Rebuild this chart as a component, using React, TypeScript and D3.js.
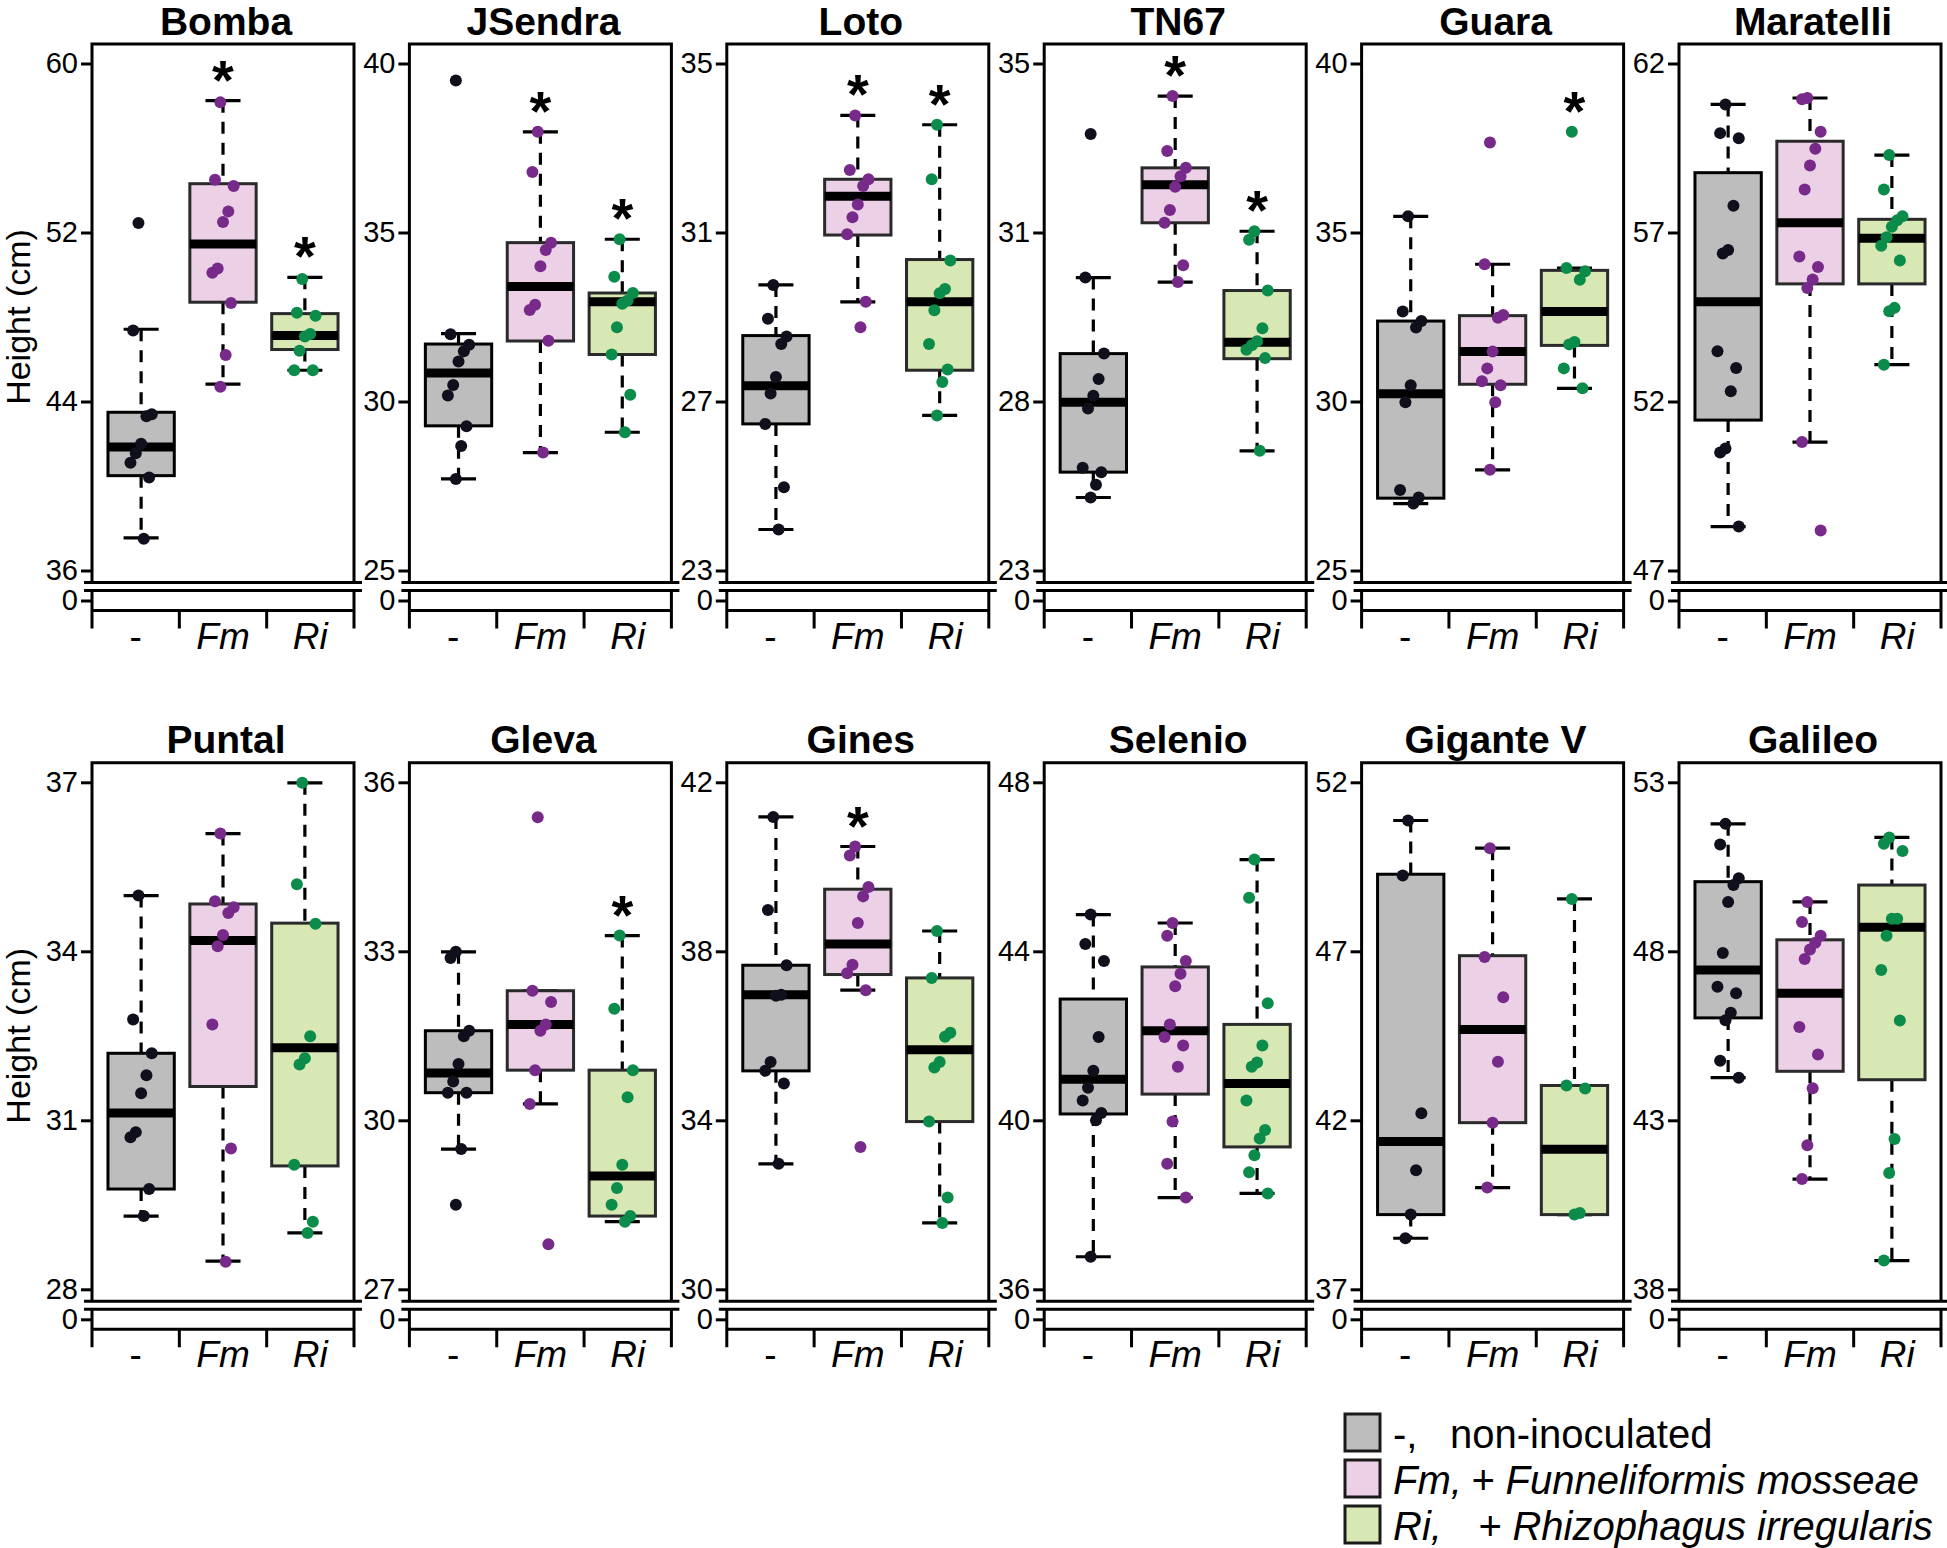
import { useEffect, useRef } from 'react'
import * as d3 from 'd3'

const cultivars = ['Bomba', 'JSendra', 'Loto', 'TN67', 'Guara', 'Maratelli', 'Puntal', 'Gleva', 'Gines', 'Selenio', 'Gigante V', 'Galileo']
const treatments = ['-', 'Fm', 'Ri']

// y tick labels, bottom to top (drawn equally spaced, as in the figure)
const yTicks = [
  [36, 44, 52, 60],
  [25, 30, 35, 40],
  [23, 27, 31, 35],
  [23, 28, 31, 35],
  [25, 30, 35, 40],
  [47, 52, 57, 62],
  [28, 31, 34, 37],
  [27, 30, 33, 36],
  [30, 34, 38, 42],
  [36, 40, 44, 48],
  [37, 42, 47, 52],
  [38, 43, 48, 53]
]

// [lower whisker, Q1, median, Q3, upper whisker]
const ctrlBox = [
  [37.54, 40.49, 41.85, 43.49, 47.42],
  [27.71, 29.28, 30.84, 31.70, 32.01],
  [23.97, 26.47, 27.37, 28.56, 29.76],
  [25.16, 25.91, 27.98, 28.85, 30.20],
  [26.98, 27.14, 30.23, 32.38, 35.48],
  [48.30, 51.45, 54.95, 58.77, 60.79],
  [29.30, 29.78, 31.13, 32.19, 34.99],
  [29.49, 30.49, 30.84, 31.59, 32.99],
  [32.97, 35.17, 36.97, 37.67, 41.18],
  [36.77, 40.15, 40.97, 42.87, 44.87],
  [38.51, 39.21, 41.37, 49.28, 50.87],
  [44.26, 46.03, 47.45, 50.06, 51.77]
]
const fmBox = [
  [44.82, 48.70, 51.45, 54.31, 58.24],
  [28.49, 31.79, 33.40, 34.70, 37.98],
  [29.36, 30.94, 31.86, 32.26, 33.77],
  [30.12, 31.23, 32.13, 32.53, 34.23],
  [27.98, 30.51, 31.48, 32.54, 34.06],
  [50.80, 55.48, 57.29, 59.70, 60.98],
  [28.50, 31.60, 34.19, 34.84, 36.09],
  [30.29, 30.89, 31.70, 32.30, 32.30],
  [37.08, 37.45, 38.17, 39.47, 40.48],
  [38.17, 40.62, 42.12, 43.63, 44.67],
  [40.01, 41.93, 44.69, 46.87, 50.05],
  [41.26, 44.45, 46.76, 48.34, 49.46]
]
const riBox = [
  [45.48, 46.46, 47.12, 48.16, 49.88],
  [29.09, 31.39, 32.95, 33.21, 34.80],
  [26.67, 27.74, 29.36, 30.36, 33.55],
  [26.54, 28.76, 29.05, 29.97, 31.03],
  [30.39, 31.66, 32.66, 33.88, 33.95],
  [53.09, 55.48, 56.83, 57.39, 59.29],
  [29.00, 30.19, 32.29, 34.50, 36.99],
  [28.20, 28.30, 29.01, 30.89, 33.28],
  [31.57, 33.97, 35.67, 37.37, 38.48],
  [38.27, 39.37, 40.87, 42.27, 46.17],
  [39.21, 39.21, 41.14, 43.03, 48.55],
  [38.85, 44.20, 48.71, 49.96, 51.37]
]

// individual plants (cm)
const ctrlPoints = [
  [52.45, 47.36, 43.4, 43.3, 42.0, 41.55, 41.1, 40.4, 37.5],
  [39.5, 31.99, 31.68, 31.49, 31.18, 30.49, 30.18, 29.27, 28.68, 27.71],
  [29.76, 28.96, 28.54, 28.36, 27.58, 27.19, 26.47, 24.97, 23.97],
  [33.33, 30.20, 28.85, 28.40, 28.10, 27.79, 26.04, 25.91, 25.54, 25.16],
  [35.48, 32.66, 32.38, 32.19, 30.48, 29.98, 27.38, 27.16, 26.98],
  [60.79, 59.94, 59.79, 57.79, 56.48, 56.38, 53.49, 52.99, 52.3, 50.61, 50.49, 48.30],
  [34.99, 32.79, 32.19, 31.80, 31.48, 30.79, 30.70, 29.78, 29.30],
  [32.99, 32.88, 31.59, 31.49, 31.0, 30.69, 30.49, 30.49, 29.49, 28.50],
  [41.18, 38.98, 37.67, 36.97, 36.95, 35.38, 35.17, 34.87, 32.97],
  [44.87, 44.17, 43.77, 41.97, 41.17, 40.77, 40.47, 40.17, 40.0, 36.77],
  [50.87, 49.24, 42.21, 40.52, 39.21, 38.51],
  [51.77, 51.16, 50.16, 49.96, 49.46, 47.95, 46.95, 46.76, 46.18, 45.96, 44.76, 44.26]
]
const fmPoints = [
  [58.16, 54.5, 54.2, 53.0, 52.5, 50.3, 50.1, 48.66, 46.2, 44.7],
  [37.98, 36.79, 34.7, 34.48, 34.0, 32.86, 32.71, 31.8, 28.49],
  [33.77, 32.48, 32.26, 32.1, 31.66, 31.36, 30.96, 29.36, 28.76],
  [34.23, 32.93, 32.53, 32.33, 32.08, 31.53, 31.23, 30.42, 30.12],
  [37.66, 34.06, 32.56, 32.48, 31.48, 30.98, 30.6, 30.48, 29.98, 27.98],
  [60.98, 60.94, 59.98, 59.48, 58.98, 58.27, 56.29, 55.98, 55.61, 55.36, 50.80, 48.18],
  [36.09, 34.89, 34.78, 34.68, 34.29, 34.09, 32.70, 30.50, 28.49],
  [35.38, 32.30, 32.10, 31.70, 31.59, 30.89, 30.29, 27.80],
  [40.48, 40.27, 39.52, 39.3, 38.67, 37.68, 37.48, 37.08, 33.37],
  [44.67, 44.37, 43.77, 43.47, 43.17, 42.27, 41.97, 41.77, 41.27, 39.97, 38.97, 38.17],
  [50.05, 46.83, 45.64, 43.73, 41.93, 40.01],
  [49.46, 48.87, 48.46, 48.25, 48.05, 47.77, 45.76, 44.95, 43.95, 42.26, 41.26]
]
const riPoints = [
  [49.8, 48.2, 48.06, 47.2, 47.08, 46.4, 45.48, 45.48],
  [34.8, 33.69, 33.21, 32.99, 32.89, 32.2, 31.39, 30.2, 29.09],
  [33.55, 32.26, 30.34, 29.66, 29.56, 29.16, 28.36, 27.76, 27.46, 26.67],
  [31.03, 30.87, 29.97, 29.30, 29.07, 29.0, 28.92, 28.77, 26.54],
  [37.98, 33.95, 33.85, 33.6, 31.76, 31.69, 30.98, 30.39],
  [59.29, 58.27, 57.48, 57.36, 57.17, 56.86, 56.61, 56.17, 54.77, 54.67, 53.09],
  [36.99, 35.19, 34.49, 32.49, 32.10, 31.99, 30.21, 29.2, 29.0],
  [33.28, 31.98, 30.89, 30.41, 29.21, 28.80, 28.5, 28.30, 28.20],
  [38.48, 37.37, 36.07, 35.98, 35.38, 35.25, 33.97, 32.17, 31.57],
  [46.17, 45.27, 42.77, 41.77, 41.37, 41.27, 40.47, 39.77, 39.57, 39.17, 38.77, 38.27],
  [48.55, 43.03, 42.94, 39.26, 39.21],
  [51.37, 51.18, 50.97, 48.96, 48.96, 48.46, 47.45, 45.95, 42.45, 41.44, 38.85]
]

// significance marks vs non-inoculated
const sigFm = [1, 1, 1, 1, 0, 0, 0, 0, 1, 0, 0, 0]
const sigRi = [1, 1, 1, 1, 1, 0, 0, 1, 0, 0, 0, 0]

const legendKeys = ['-,', 'Fm,', 'Ri,']
const legendTexts = ['non-inoculated', '+ Funneliformis mosseae', '+ Rhizophagus irregularis']

const fills = ['#bdbdbd', '#ebd0e6', '#d8e8b4']
const dots = ['#10101c', '#782a8a', '#0c8c4a']
const FONT = '"Liberation Sans", Arial, Helvetica, sans-serif'

const W = 1947
const H = 1548

export default function App() {
  const svgRef = useRef<SVGSVGElement>(null)

  useEffect(() => {
    if (!svgRef.current) return
    const svg = d3.select(svgRef.current)
    svg.selectAll('*').remove()

    const panelLeft0 = 92
    const pitch = 317.4
    const panelW = 262
    const rowTickTop = [63.5, 782.3]
    const span = 507
    const boxes = [ctrlBox, fmBox, riBox]
    const pts = [ctrlPoints, fmPoints, riPoints]
    const sigs = [null, sigFm, sigRi]

    // small deterministic horizontal spread for the dots
    const jitter = (i: number) => (((i * 7 + 3) % 9) / 8 - 0.5) * 0.26

    cultivars.forEach((name, ci) => {
      const row = Math.floor(ci / 6)
      const col = ci % 6
      const left = panelLeft0 + col * pitch
      const right = left + panelW
      const top = rowTickTop[row]
      const bottom = top + span
      const frameTop = top - 19.5
      const brk1 = bottom + 12
      const brk2 = bottom + 20
      const zeroY = bottom + 30
      const axisY = bottom + 40
      const tickDown = axisY + 18

      const ticks = yTicks[ci]
      const y = d3.scaleLinear()
        .domain(ticks)
        .range(ticks.map((_, i) => bottom - (i * span) / (ticks.length - 1)))
      const x = d3.scaleLinear().domain([0.4, 3.6]).range([left, right])
      const band = d3.scaleBand().domain(treatments).range([left, right])

      const g = svg.append('g')

      // title
      g.append('text')
        .attr('x', (left + right) / 2 + 3)
        .attr('y', top - 29)
        .attr('text-anchor', 'middle')
        .style('font', `bold 39px ${FONT}`)
        .text(name)

      // y axis
      const yAxis = g.append('g')
        .attr('transform', `translate(${left},0)`)
        .call(d3.axisLeft(y).tickValues(ticks).tickSize(11).tickPadding(3).tickFormat(d3.format('d')))
      yAxis.select('.domain').remove()
      yAxis.selectAll('line').attr('stroke', '#000').attr('stroke-width', 3)
      yAxis.selectAll('text').style('font', `29px ${FONT}`).attr('fill', '#000')

      const zero = d3.scaleLinear().domain([0, 1]).range([zeroY, zeroY - 10])
      const zAxis = g.append('g')
        .attr('transform', `translate(${left},0)`)
        .call(d3.axisLeft(zero).tickValues([0]).tickSize(11).tickPadding(3).tickFormat(d3.format('d')))
      zAxis.select('.domain').remove()
      zAxis.selectAll('line').attr('stroke', '#000').attr('stroke-width', 3)
      zAxis.selectAll('text').style('font', `29px ${FONT}`).attr('fill', '#000')

      // frame (upper part)
      g.append('path')
        .attr('d', `M${left},${brk1}V${frameTop}H${right}V${brk1}`)
        .attr('fill', 'none')
        .attr('stroke', '#000')
        .attr('stroke-width', 3)

      // break lines
      ;[brk1, brk2].forEach(by => {
        g.append('line')
          .attr('x1', left - 8).attr('x2', right + 8)
          .attr('y1', by).attr('y2', by)
          .attr('stroke', '#000').attr('stroke-width', 3)
      })

      // lower part with x axis
      g.append('path')
        .attr('d', `M${left},${brk2}V${tickDown}M${right},${brk2}V${tickDown}M${left},${axisY}H${right}`)
        .attr('fill', 'none')
        .attr('stroke', '#000')
        .attr('stroke-width', 3)
      treatments.slice(1).forEach(t => {
        const bx = band(t)!
        g.append('line')
          .attr('x1', bx).attr('x2', bx)
          .attr('y1', axisY).attr('y2', tickDown)
          .attr('stroke', '#000').attr('stroke-width', 3)
      })
      treatments.forEach(t => {
        g.append('text')
          .attr('x', band(t)! + band.bandwidth() / 2)
          .attr('y', axisY + 38)
          .attr('text-anchor', 'middle')
          .style('font', `${t === '-' ? 'normal' : 'italic'} 37px ${FONT}`)
          .text(t)
      })

      // boxes
      const halfW = 0.405
      const capW = 0.214
      boxes.forEach((bs, ti) => {
        const [lo, q1, med, q3, hi] = bs[ci]
        const cx = ti + 1
        g.append('line')
          .attr('x1', x(cx)).attr('x2', x(cx))
          .attr('y1', y(hi)).attr('y2', y(q3))
          .attr('stroke', '#000').attr('stroke-width', 3.2)
          .attr('stroke-dasharray', '12,9')
        g.append('line')
          .attr('x1', x(cx)).attr('x2', x(cx))
          .attr('y1', y(q1)).attr('y2', y(lo))
          .attr('stroke', '#000').attr('stroke-width', 3.2)
          .attr('stroke-dasharray', '12,9')
        ;[lo, hi].forEach(v => {
          g.append('line')
            .attr('x1', x(cx - capW)).attr('x2', x(cx + capW))
            .attr('y1', y(v)).attr('y2', y(v))
            .attr('stroke', '#000').attr('stroke-width', 3.2)
        })
        g.append('rect')
          .attr('x', x(cx - halfW))
          .attr('y', y(q3))
          .attr('width', x(cx + halfW) - x(cx - halfW))
          .attr('height', y(q1) - y(q3))
          .attr('fill', fills[ti])
          .attr('stroke', ti === 0 ? '#000' : '#2a2a2a')
          .attr('stroke-width', 3)
        g.append('line')
          .attr('x1', x(cx - halfW)).attr('x2', x(cx + halfW))
          .attr('y1', y(med)).attr('y2', y(med))
          .attr('stroke', '#000').attr('stroke-width', 9)

        g.selectAll(null)
          .data(pts[ti][ci])
          .join('circle')
          .attr('cx', (d, i) => x(cx + jitter(i)))
          .attr('cy', d => y(d))
          .attr('r', 6)
          .attr('fill', dots[ti])

        const sig = sigs[ti]
        if (sig && sig[ci]) {
          const maxV = Math.max(hi, d3.max(pts[ti][ci]) || hi)
          g.append('text')
            .attr('x', x(cx))
            .attr('y', y(maxV) - 2)
            .attr('text-anchor', 'middle')
            .style('font', `bold 56px ${FONT}`)
            .text('*')
        }
      })

      // y label on first column
      if (col === 0) {
        g.append('text')
          .attr('transform', `translate(30,${(top + bottom) / 2}) rotate(-90)`)
          .attr('text-anchor', 'middle')
          .style('font', `34px ${FONT}`)
          .text('Height (cm)')
      }
    })

    // legend
    const lg = svg.append('g')
    legendKeys.forEach((k, i) => {
      const ly = 1414 + i * 46
      lg.append('rect')
        .attr('x', 1345).attr('y', ly)
        .attr('width', 35).attr('height', 37)
        .attr('fill', fills[i])
        .attr('stroke', '#1a1a1a').attr('stroke-width', 3)
      const t = lg.append('text')
        .attr('y', ly + 34)
        .style('font', `${i === 0 ? 'normal' : 'italic'} 40px ${FONT}`)
      t.append('tspan').attr('x', 1393).text(k)
      t.append('tspan').attr('x', [1450, 1471, 1478][i]).text(legendTexts[i])
    })
  }, [])

  return (
    <div style={{ position: 'absolute', left: 0, top: 0, background: '#fff' }}>
      <svg ref={svgRef} width={W} height={H} style={{ display: 'block' }} />
    </div>
  )
}
